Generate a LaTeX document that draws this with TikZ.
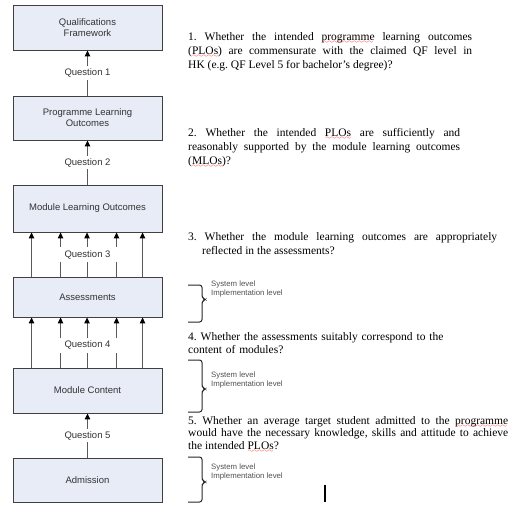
\documentclass[tikz,border=0pt]{standalone}
\usepackage{fontspec}
\setmainfont{Liberation Serif}
\setsansfont{Liberation Sans}
\usetikzlibrary{arrows.meta}
\definecolor{boxfill}{HTML}{E8ECF6}
\definecolor{boxline}{HTML}{404040}
\definecolor{connline}{HTML}{5A5A5A}
\definecolor{lvltext}{HTML}{505050}
% red wavy underline for flagged words
\font\wavefont=lasy6 \relax
\newsavebox\wordbox
\newcommand\spellwave[1]{\sbox\wordbox{#1}\mbox{\rlap{\usebox\wordbox}%
  \lower3pt\hbox to \wd\wordbox{\color{red}\cleaders\hbox{\wavefont\char58}\hfil}}}

\begin{document}
\frenchspacing
\begin{tikzpicture}[x=1pt,y=-1pt,
  box/.style={draw=boxline, fill=boxfill, line width=0.9pt, minimum width=149pt,
    inner sep=0pt, font=\sffamily\fontsize{9.5}{11}\selectfont, text=black!80, align=center},
  conn/.style={draw=connline, line width=1pt,
    -{Triangle[width=5.5pt,length=6pt,color=black]}},
  qlabel/.style={fill=white, inner xsep=1pt, inner ysep=2.5pt,
    font=\sffamily\fontsize{9.5}{10}\selectfont, text=black!80},
  para/.style={anchor=base west, inner sep=0pt,
    font=\fontsize{11.5}{14}\selectfont, align=justify},
  lvl/.style={anchor=base west, inner sep=0pt,
    font=\sffamily\fontsize{7.8}{9}\selectfont, text=lvltext, align=left},
  bracket/.style={draw=black!85, line width=1pt, rounded corners=2.5pt}
]
\useasboundingbox (0,0) rectangle (520,504);

% stages of the review chain
\node[box, minimum height=45pt] (qf)  at (87.5,27.5)  {Qualifications\\Framework};
\node[box, minimum height=44pt] (plo) at (87.5,118)   {Programme Learning\\Outcomes};
\node[box, minimum height=47pt] (mlo) at (87.5,208.5) {Module Learning Outcomes};
\node[box, minimum height=40pt] (asm) at (87.5,297)   {Assessments};
\node[box, minimum height=45pt] (mc)  at (87.5,390.5) {Module Content};
\node[box, minimum height=44pt] (adm) at (87.5,480)   {Admission};

% single links
\draw[conn] (plo.north) -- node[qlabel] (q1) {Question 1} (qf.south);
\draw[conn] (mlo.north) -- node[qlabel] (q2) {Question 2} (plo.south);
\draw[conn] (adm.north) -- node[qlabel] (q5) {Question 5} (mc.south);

% multiple links
\foreach \dx in {19,48,74.5,104,130}{
  \draw[conn] ([xshift=\dx pt]asm.north west) -- ([xshift=\dx pt]mlo.south west);
  \draw[conn] ([xshift=\dx pt]mc.north west) -- ([xshift=\dx pt]asm.south west);
}
\node[qlabel, minimum width=62pt, minimum height=15pt] (q3) at (87.5,254.5) {Question 3};
\node[qlabel, minimum width=62pt, minimum height=15pt] (q4) at (87.5,345) {Question 4};

% questions
\node[para, text width=284pt] (t1) at (188,40) {1. Whether the intended \spellwave{programme} learning outcomes\linebreak
(\spellwave{PLOs}) are commensurate with the claimed QF level in\linebreak
HK (e.g. QF Level 5 for bachelor’s degree)?};

\node[para, text width=272pt] (t2) at (188,136) {2. Whether the intended \spellwave{PLOs} are sufficiently and\linebreak
reasonably supported by the module learning outcomes\linebreak
(\spellwave{MLOs})?};

\node[para, text width=309pt] (t3) at (188,240) {3. Whether the module learning outcomes are appropriately\linebreak
\hspace*{14pt}reflected in the assessments?};

\node[para, text width=320pt, align=left, font=\fontsize{11.5}{13}\selectfont] (t4) at (188,340) {4. Whether the assessments suitably correspond to the\\
content of modules?};

\node[para, text width=320pt, font=\fontsize{11.5}{12.5}\selectfont] (t5) at (188,424) {5. Whether an average target student admitted to the \spellwave{programme}\linebreak
would have the necessary knowledge, skills and attitude to achieve\linebreak
the intended \spellwave{PLOs}?};

% level brackets
\draw[bracket] (188,285) -- (202,285) -- (202,297.5) -- (205.5,299.5) -- (202,301.5) -- (202,322) -- (188,322);
\node[lvl] (l1) at (211,295) {System level\\Implementation level};

\draw[bracket] (188,360) -- (202,360) -- (202,387) -- (205.5,389) -- (202,391) -- (202,412) -- (188,412);
\node[lvl] (l2) at (211,386) {System level\\Implementation level};

\draw[bracket] (188,457) -- (202,457) -- (202,480) -- (205.5,482) -- (202,484) -- (202,502) -- (188,502);
\node[lvl] (l3) at (211,478) {System level\\Implementation level};

% text cursor
\draw[line width=1.6pt] (325,485) -- (325,502);
\end{tikzpicture}
\end{document}
